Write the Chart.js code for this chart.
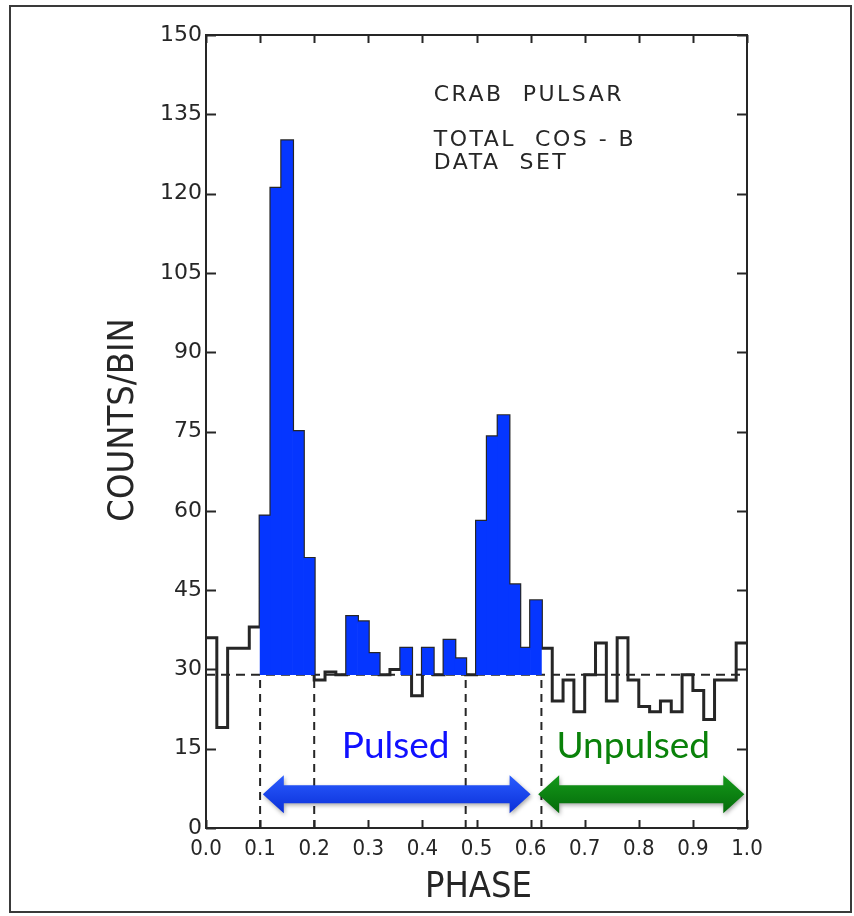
<!DOCTYPE html>
<html>
<head>
<meta charset="utf-8">
<title>Crab pulsar - total COS-B data set</title>
<script src="https://cdn.jsdelivr.net/npm/chart.js@4.4.1/dist/chart.umd.min.js"></script>
<style>
  html, body { margin: 0; padding: 0; background: #fff; }
  canvas { display: block; }
</style>
</head>
<body>
<canvas id="crab-chart" width="854" height="916"></canvas>
<script>
// Histogram bin width in phase
const binWidth = 0.02;

// Counts per bin, 50 bins from phase 0.00 to 1.00
const counts = [
  36, 19, 34, 34, 38, 59, 121, 130, 75, 51,
  28, 29.5, 29, 40, 39, 33, 29, 30, 34, 25,
  34, 29, 35.5, 32, 29, 58, 74, 78, 46, 34,
  43, 34, 24, 28, 22, 29, 35, 24, 36, 28,
  23, 22, 24, 22, 29, 26, 20.5, 28, 28, 35,
];

// Bins painted blue (index into counts)
const pulsedBins = [5, 6, 7, 8, 9, 13, 14, 15, 18, 20, 22, 23, 25, 26, 27, 28, 29, 30];

// Background level (dashed line) and phase window edges
const baseline = 29;
const windowEdges = [0.1, 0.2, 0.48, 0.62];

// Axis ticks
const xTicks = [0, 0.1, 0.2, 0.3, 0.4, 0.5, 0.6, 0.7, 0.8, 0.9, 1.0];
const xTickLabels = ['0.0', '0.1', '0.2', '0.3', '0.4', '0.5', '0.6', '0.7', '0.8', '0.9', '1.0'];
const yTicks = [0, 15, 30, 45, 60, 75, 90, 105, 120, 135, 150];

// Annotations
const pulsedRange = [0.105, 0.6];
const unpulsedRange = [0.614, 0.995];
const arrowLevel = 6.4;
const rangeLabelLevel = 13.2;
const titleLines = ['CRAB  PULSAR', 'TOTAL  COS - B', 'DATA  SET'];
const titlePhase = 0.421;
const titleLevels = [137.5, 129, 124.6];

const ink = '#262626';
const blue = '#0536ff';
const green = '#0a820a';

// Build step points at bin edges
const histPoints = counts.map((c, i) => ({ x: i * binWidth, y: c }));
histPoints.push({ x: 1, y: counts[counts.length - 1] });

const pulsedBars = pulsedBins.map((i) => ({ x: i * binWidth + binWidth / 2, y: [baseline, counts[i]] }));

const edgeSets = windowEdges.map((p) => ({
  type: 'line',
  data: [{ x: p, y: 0 }, { x: p, y: baseline }],
  borderColor: ink,
  borderWidth: 2,
  borderDash: [8, 6],
  pointRadius: 0,
  order: 2,
}));

// Arrow with a head at both ends
const drawArrow = (ctx, x1, x2, yc, color, dark) => {
  const shaft = 9, head = 19, len = 21;
  ctx.save();
  ctx.shadowColor = 'rgba(0,0,0,0.35)';
  ctx.shadowBlur = 4;
  ctx.shadowOffsetX = 1;
  ctx.shadowOffsetY = 2;
  const grad = ctx.createLinearGradient(0, yc - head, 0, yc + head);
  grad.addColorStop(0, color);
  grad.addColorStop(1, dark);
  ctx.fillStyle = grad;
  ctx.beginPath();
  ctx.moveTo(x1, yc);
  ctx.lineTo(x1 + len, yc - head);
  ctx.lineTo(x1 + len, yc - shaft);
  ctx.lineTo(x2 - len, yc - shaft);
  ctx.lineTo(x2 - len, yc - head);
  ctx.lineTo(x2, yc);
  ctx.lineTo(x2 - len, yc + head);
  ctx.lineTo(x2 - len, yc + shaft);
  ctx.lineTo(x1 + len, yc + shaft);
  ctx.lineTo(x1 + len, yc + head);
  ctx.closePath();
  ctx.fill();
  ctx.restore();
};

const decorations = {
  id: 'decorations',
  beforeDraw(chart) {
    const { ctx, width, height } = chart;
    ctx.save();
    ctx.fillStyle = '#fff';
    ctx.fillRect(0, 0, width, height);
    ctx.strokeStyle = '#3a3a3a';
    ctx.lineWidth = 2;
    ctx.strokeRect(10, 6, width - 13, height - 10);
    ctx.restore();
  },
  afterDraw(chart) {
    const { ctx, chartArea: a, scales: { x, y } } = chart;
    ctx.save();

    // Frame
    ctx.strokeStyle = ink;
    ctx.lineWidth = 2;
    ctx.strokeRect(a.left, a.top, a.right - a.left, a.bottom - a.top);

    // Inward tick marks
    ctx.beginPath();
    yTicks.forEach((v) => {
      const py = Math.round(y.getPixelForValue(v)) + 0.5;
      ctx.moveTo(a.left, py); ctx.lineTo(a.left + 10, py);
      ctx.moveTo(a.right, py); ctx.lineTo(a.right - 10, py);
    });
    xTicks.forEach((v) => {
      const px = Math.round(x.getPixelForValue(v)) + 0.5;
      ctx.moveTo(px, a.bottom); ctx.lineTo(px, a.bottom - 8);
      ctx.moveTo(px, a.top); ctx.lineTo(px, a.top + 8);
    });
    ctx.stroke();

    // Tick labels
    ctx.fillStyle = ink;
    ctx.font = '22px "DejaVu Sans", sans-serif';
    ctx.textAlign = 'right';
    ctx.textBaseline = 'middle';
    yTicks.forEach((v) => ctx.fillText(String(v), a.left - 4, y.getPixelForValue(v)));
    ctx.font = '22px "DejaVu Sans Condensed", "DejaVu Sans", sans-serif';
    ctx.textAlign = 'center';
    xTicks.forEach((v, i) => ctx.fillText(xTickLabels[i], x.getPixelForValue(v), a.bottom + 21));

    // Axis titles
    ctx.font = '36px "DejaVu Sans Condensed", "DejaVu Sans", sans-serif';
    ctx.fillText('PHASE', (a.left + a.right) / 2 + 2, a.bottom + 60);
    ctx.save();
    ctx.translate(124, 420);
    ctx.rotate(-Math.PI / 2);
    ctx.fillText('COUNTS/BIN', 0, 0);
    ctx.restore();

    // Title block inside the plot
    ctx.font = '22px "DejaVu Sans", sans-serif';
    ctx.textAlign = 'left';
    ctx.textBaseline = 'alphabetic';
    ctx.letterSpacing = '2.5px';
    titleLines.forEach((t, i) => ctx.fillText(t, x.getPixelForValue(titlePhase), y.getPixelForValue(titleLevels[i])));
    ctx.letterSpacing = '0px';

    // Pulsed / unpulsed arrows
    const ay = y.getPixelForValue(arrowLevel);
    drawArrow(ctx, x.getPixelForValue(pulsedRange[0]), x.getPixelForValue(pulsedRange[1]), ay, '#2a5cff', '#0a2fd8');
    drawArrow(ctx, x.getPixelForValue(unpulsedRange[0]), x.getPixelForValue(unpulsedRange[1]), ay, '#14991a', '#056b0a');

    ctx.font = '37px Lato, "Open Sans", sans-serif';
    ctx.textAlign = 'center';
    const ly = y.getPixelForValue(rangeLabelLevel);
    ctx.fillStyle = '#1010ff';
    ctx.fillText('Pulsed', x.getPixelForValue((pulsedRange[0] + pulsedRange[1]) / 2) - 1, ly);
    ctx.fillStyle = green;
    ctx.fillText('Unpulsed', x.getPixelForValue((unpulsedRange[0] + unpulsedRange[1]) / 2) - 8, ly);

    ctx.restore();
  },
};

new Chart(document.getElementById('crab-chart'), {
  type: 'line',
  data: {
    datasets: [
      {
        type: 'line',
        label: 'Counts/bin',
        data: histPoints,
        stepped: 'before',
        borderColor: ink,
        borderWidth: 3,
        pointRadius: 0,
        order: 1,
      },
      {
        type: 'line',
        label: 'Background',
        data: [{ x: 0, y: baseline }, { x: 1, y: baseline }],
        borderColor: ink,
        borderWidth: 2,
        borderDash: [9, 6],
        pointRadius: 0,
        order: 2,
      },
      ...edgeSets,
      {
        // painted over the outline, like the marker-coloured original
        type: 'bar',
        label: 'Pulsed',
        data: pulsedBars,
        backgroundColor: blue,
        borderWidth: 0,
        barPercentage: 1,
        categoryPercentage: 1,
        grouped: false,
        order: 0,
      },
    ],
  },
  options: {
    responsive: false,
    animation: false,
    layout: { padding: { left: 206, right: 107, top: 35, bottom: 88 } },
    plugins: { legend: { display: false }, tooltip: { enabled: false } },
    scales: {
      x: { type: 'linear', min: 0, max: 1, offset: false, display: false, ticks: { stepSize: 0.1 } },
      y: { type: 'linear', min: 0, max: 150, display: false, ticks: { stepSize: 15 } },
    },
  },
  plugins: [decorations],
});
</script>
</body>
</html>
